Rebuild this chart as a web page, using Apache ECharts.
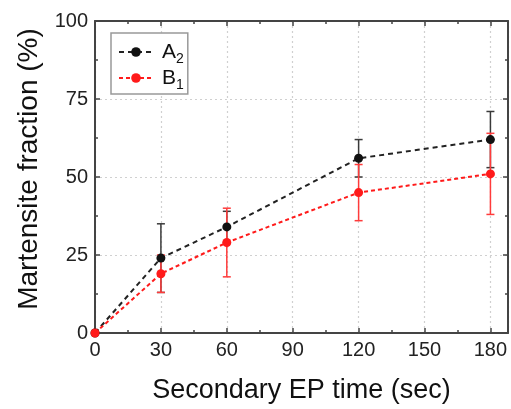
<!DOCTYPE html>
<html>
<head>
<meta charset="utf-8">
<script src="https://cdn.jsdelivr.net/npm/echarts@6/dist/echarts.min.js"></script>
<style>
html,body{margin:0;padding:0;background:#fff;}
#chart{width:511px;height:409px;}
</style>
</head>
<body>
<div id="chart"></div>
<script>
const xValues = [0, 30, 60, 120, 180];
const seriesA2 = [0, 24, 34, 56, 62];
const errA2 = [0, 11, 5, 6, 9];
const seriesB1 = [0, 19, 29, 45, 51];
const errB1 = [0, 6, 11, 9, 13];

const FONT = '"Liberation Sans", Arial, sans-serif';
const chart = echarts.init(document.getElementById('chart'), null, {renderer: 'canvas'});

function pairs(ys) { return xValues.map((x, i) => [x, ys[i]]); }
function errData(ys, es) { return xValues.map((x, i) => [x, ys[i] - es[i], ys[i] + es[i]]); }

function errRender(color) {
  return function (params, api) {
    const x = api.value(0);
    const lo = api.coord([x, api.value(1)]);
    const hi = api.coord([x, api.value(2)]);
    if (Math.abs(hi[1] - lo[1]) < 1) return null;
    const cap = 4;
    const style = {stroke: color, lineWidth: 1.5};
    return {
      type: 'group',
      children: [
        {type: 'line', shape: {x1: lo[0], y1: lo[1], x2: hi[0], y2: hi[1]}, style},
        {type: 'line', shape: {x1: lo[0] - cap, y1: lo[1], x2: lo[0] + cap, y2: lo[1]}, style},
        {type: 'line', shape: {x1: hi[0] - cap, y1: hi[1], x2: hi[0] + cap, y2: hi[1]}, style}
      ]
    };
  };
}

const axisLineStyle = {color: '#444', width: 2};
const baseX = {
  type: 'value', min: 0, max: 188, interval: 30,
  axisLine: {show: true, onZero: false, lineStyle: axisLineStyle},
  axisTick: {show: true, inside: true, length: 5, lineStyle: {color: '#444', width: 1.5}},
  minorTick: {show: true, splitNumber: 2, length: 3, lineStyle: {color: '#444', width: 1.5}},
};
const baseY = {
  type: 'value', min: 0, max: 100, interval: 25,
  axisLine: {show: true, onZero: false, lineStyle: axisLineStyle},
  axisTick: {show: true, inside: true, length: 5, lineStyle: {color: '#444', width: 1.5}},
  minorTick: {show: true, splitNumber: 2, length: 3, lineStyle: {color: '#444', width: 1.5}},
};

const option = {
  animation: false,
  backgroundColor: '#fff',
  textStyle: {fontFamily: FONT},
  grid: {left: 95, right: 3, top: 21, bottom: 74, containLabel: false},
  legend: {
    orient: 'vertical', left: 111, top: 33,
    padding: [8, 4, 2, 7], itemGap: 1,
    itemWidth: 34, itemHeight: 12,
    borderColor: '#999', borderWidth: 1.5, backgroundColor: '#fff',
    data: ['A2', 'B1'],
    formatter: function (name) { return '{m|' + name[0] + '}{sub|' + name.slice(1) + '}'; },
    textStyle: {
      fontFamily: FONT, fontSize: 20, color: '#111', lineHeight: 22,
      rich: {
        m: {fontFamily: FONT, fontSize: 21, color: '#111', padding: [0, 0, 0, 4]},
        sub: {fontFamily: FONT, fontSize: 14, color: '#111', padding: [14, 0, 0, 0]}
      }
    }
  },
  xAxis: [
    Object.assign({}, baseX, {
      position: 'bottom',
      axisLabel: {fontSize: 20, color: '#222', margin: 7, showMaxLabel: false, fontFamily: FONT},
      splitLine: {show: true, lineStyle: {color: '#d0d0d0', type: [2, 3], width: 1.2}},
      name: 'Secondary EP time (sec)', nameLocation: 'middle', nameGap: 44,
      nameTextStyle: {fontSize: 27, color: '#111', fontFamily: FONT}
    }),
    Object.assign({}, baseX, {
      position: 'top', axisLabel: {show: false}, splitLine: {show: false}
    })
  ],
  yAxis: [
    Object.assign({}, baseY, {
      position: 'left',
      axisLabel: {fontSize: 20, color: '#222', margin: 7, fontFamily: FONT},
      splitLine: {show: true, lineStyle: {color: '#d0d0d0', type: [2, 3], width: 1.2}},
      name: 'Martensite fraction (%)', nameLocation: 'middle', nameGap: 50,
      nameTextStyle: {fontSize: 28, color: '#111', fontFamily: FONT, padding: [0, 0, 0, 16]}
    }),
    Object.assign({}, baseY, {
      position: 'right', axisLabel: {show: false}, splitLine: {show: false}
    })
  ],
  series: [
    {
      name: 'errA2', type: 'custom', xAxisIndex: 0, yAxisIndex: 0, z: 1,
      renderItem: errRender('#3a3a3a'), data: errData(seriesA2, errA2),
      encode: {x: 0, y: [1, 2]}, silent: true
    },
    {
      name: 'errB1', type: 'custom', xAxisIndex: 0, yAxisIndex: 0, z: 1,
      renderItem: errRender('#ff3b3b'), data: errData(seriesB1, errB1),
      encode: {x: 0, y: [1, 2]}, silent: true
    },
    {
      name: 'A2', type: 'line', z: 3, data: pairs(seriesA2),
      symbol: 'circle', symbolSize: 9,
      itemStyle: {color: '#111'},
      lineStyle: {color: '#222', width: 2, type: [5, 4]}
    },
    {
      name: 'B1', type: 'line', z: 3, data: pairs(seriesB1),
      symbol: 'circle', symbolSize: 9,
      itemStyle: {color: '#ff1a1a'},
      lineStyle: {color: '#ff1a1a', width: 2, type: [4, 3]}
    }
  ]
};
chart.setOption(option);
</script>
</body>
</html>
